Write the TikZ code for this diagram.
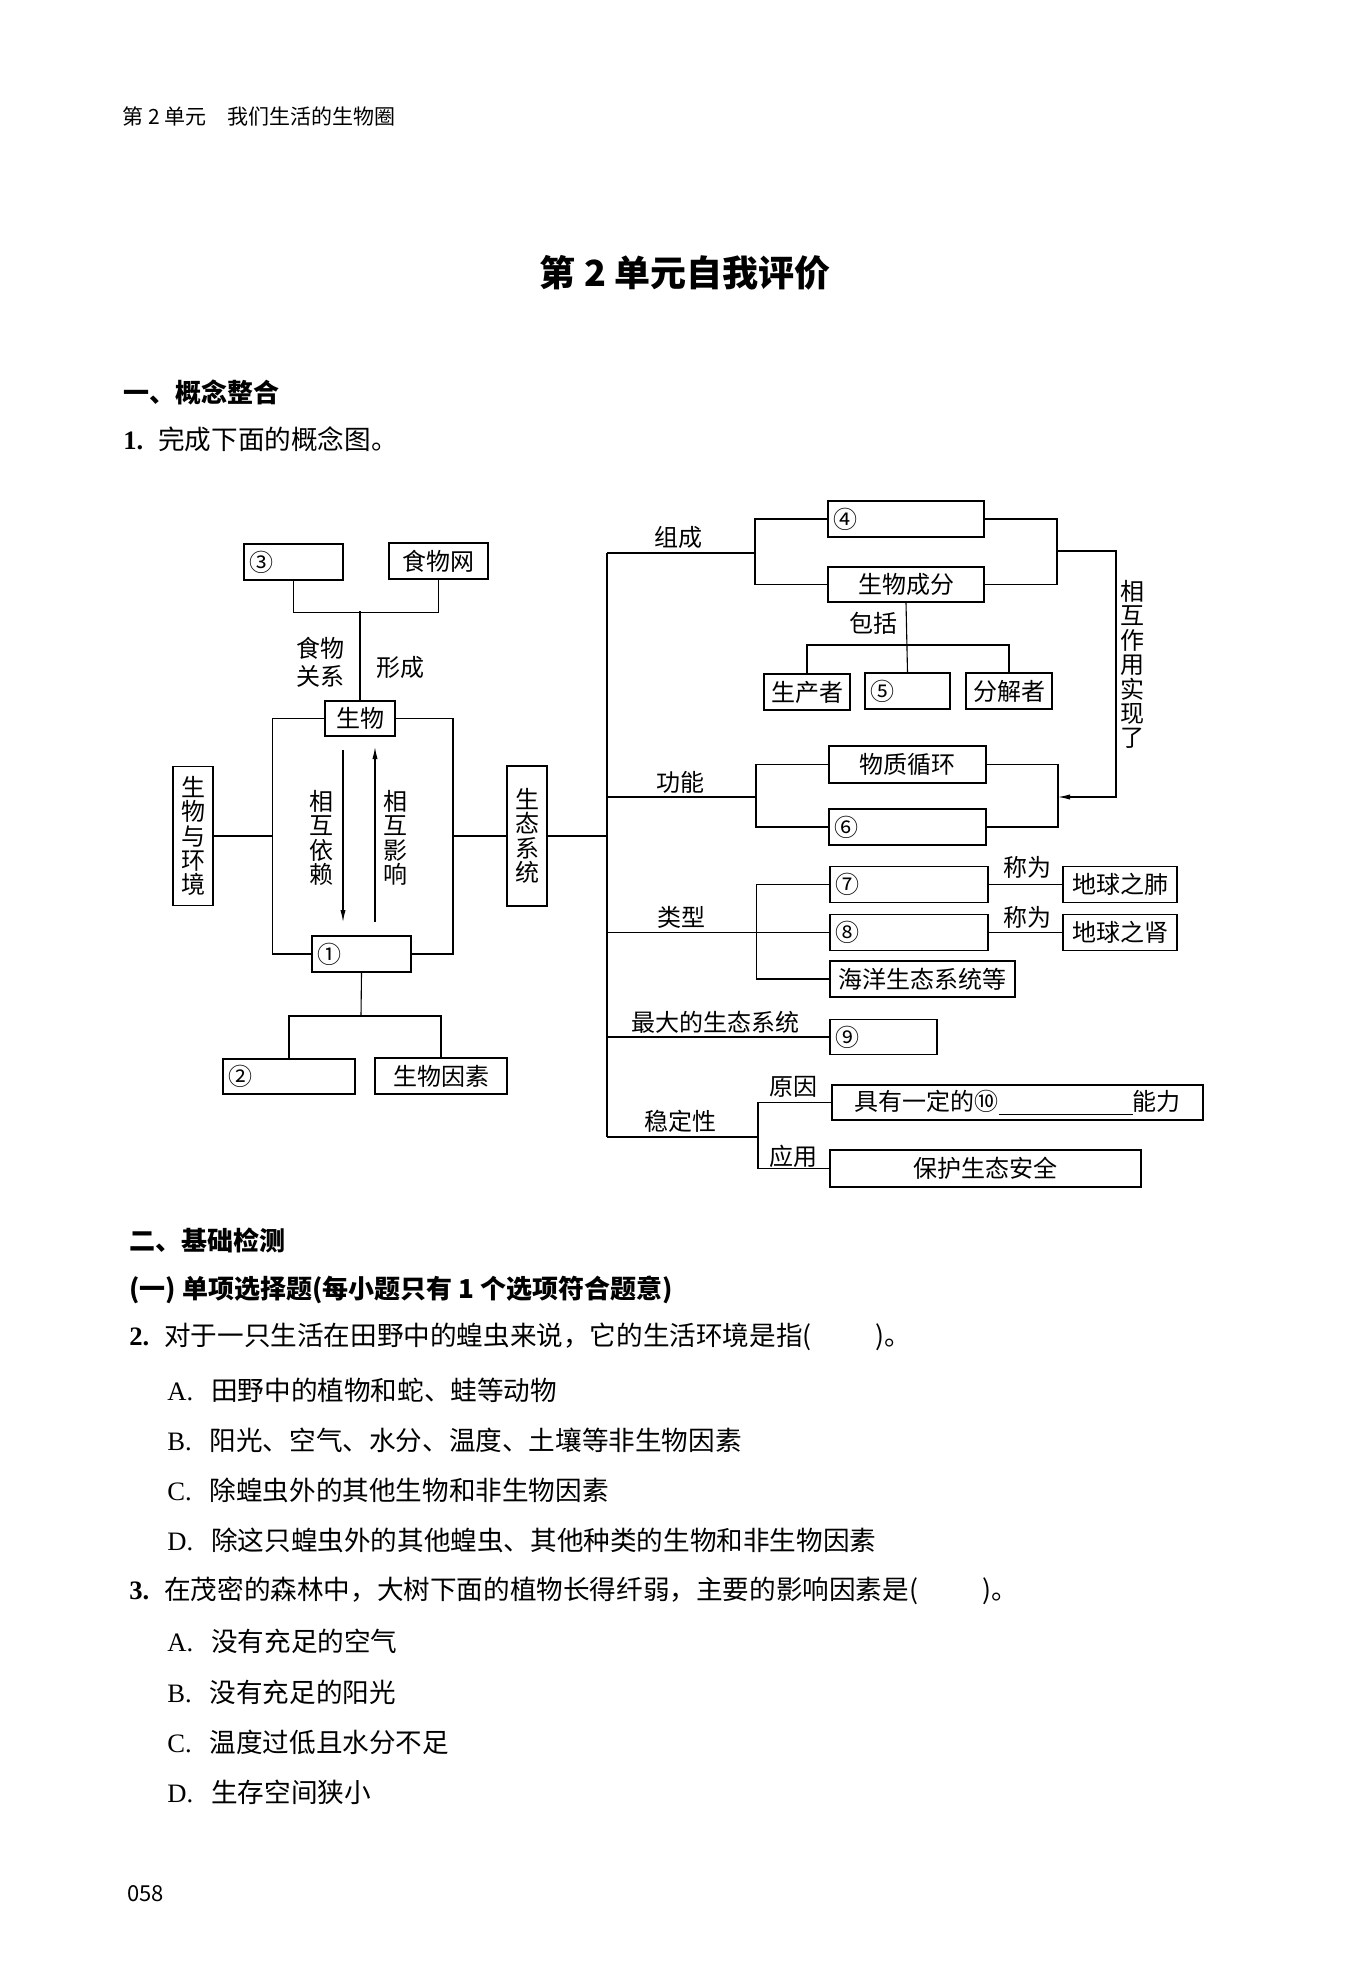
\documentclass[tikz,border=0pt]{standalone}
\usepackage{fontspec}
\setmainfont{Noto Sans CJK SC}
\newfontfamily\latin{Liberation Serif}
\usepackage{tikz}
\usetikzlibrary{arrows.meta}

\begin{document}
\begin{tikzpicture}[x=0.5pt,y=-0.5pt]
    \fill[white] (0,0) rectangle (1350,1975);
    \useasboundingbox (0,0) rectangle (1350,1975);

    \tikzstyle{every node}=[font=\fontsize{12}{14}\selectfont,inner sep=0pt]
    \tikzstyle{box}=[draw,line width=0.8pt]
    \tikzstyle{num}=[anchor=west,inner xsep=3pt]
    \tikzstyle{vert}=[align=center,font=\fontsize{12}{12.2}\selectfont]
    \tikzstyle{txt}=[anchor=west,font=\fontsize{13.3}{16}\selectfont]
    \tikzstyle{head}=[anchor=west,font=\fontsize{13}{16}\selectfont\bfseries]

    % page text
    \node[anchor=west,font=\fontsize{10.5}{12}\selectfont](unit) at (122,116){第 2 单元\quad 我们生活的生物圈};
    \node[font=\fontsize{18}{20}\selectfont\bfseries](title) at (685,273){第 2 单元自我评价};
    \node[head](sec1) at (123,392){一、概念整合};
    \node[txt](q1) at (123,439){{\latin\bfseries 1.}\hspace{7.5pt}完成下面的概念图。};

    % left part
    \node[box,minimum width=49.5pt,minimum height=18pt,label={[num]west:③}](n3) at (293.5,562){};
    \node[box,minimum width=49.5pt,minimum height=18pt](web) at (438.5,561){食物网};
    \node[box,minimum width=35pt,minimum height=17.5pt](bio) at (360,718.5){生物};
    \node[box,minimum width=49.5pt,minimum height=18pt,label={[num]west:①}](n1) at (361.5,954){};
    \node[box,minimum width=66pt,minimum height=17.5pt,label={[num]west:②}](n2) at (289,1076.5){};
    \node[box,minimum width=66pt,minimum height=18pt](factor) at (441,1076){生物因素};
    \node[box,vert,minimum width=20pt,minimum height=69.5pt](env) at (193,836){生\\物\\与\\环\\境};
    \node[box,vert,minimum width=20pt,minimum height=70pt](eco) at (527,836){生\\态\\系\\统};

    \node[align=center](lfood) at (320,662){食物\\关系};
    \node(lform) at (400,667){形成};
    \node[vert](ldep) at (321,838){相\\互\\依\\赖};
    \node[vert](linf) at (395.5,838){相\\互\\影\\响};

    \coordinate (rl) at (272.5,836);
    \coordinate (rr) at (453,836);
    \coordinate (k2) at (361,1016);
    \coordinate (a1) at (343,750);
    \coordinate (a2) at (343,922);
    \coordinate (a3) at (375,922);
    \coordinate (a4) at (375,747);

    \draw[line width=0.55pt](n3.south)--++(0,32)-|(web.south);
    \draw[line width=0.55pt](bio.north)--++(0,-89);
    \draw[line width=0.55pt](bio.west)-|(rl)|-(n1.west);
    \draw[line width=0.55pt](bio.east)-|(rr)|-(n1.east);
    \draw[line width=0.55pt](env.east)--(rl);
    \draw[line width=0.55pt](eco.west)--(rr);
    \draw[line width=0.55pt](n1.south)--(k2);
    \draw[line width=0.55pt](n2.north)|-(k2)-|(factor.north);
    \draw[line width=0.55pt,-{Latex[length=6pt,width=2.6pt]}](a1)--(a2);
    \draw[line width=0.55pt,-{Latex[length=6pt,width=2.6pt]}](a3)--(a4);

    % right part
    \node[box,minimum width=78pt,minimum height=18pt,label={[num]west:④}](n4) at (906,519){};
    \node[box,minimum width=78pt,minimum height=17.5pt](biocomp) at (906,584.5){生物成分};
    \node[box,minimum width=43pt,minimum height=18pt](producer) at (807,692){生产者};
    \node[box,minimum width=42.5pt,minimum height=18pt,label={[num]west:⑤}](n5) at (907.5,691){};
    \node[box,minimum width=43pt,minimum height=18pt](decomp) at (1009,691){分解者};
    \node[box,minimum width=78.5pt,minimum height=18.5pt](cycle) at (907.5,764.5){物质循环};
    \node[box,minimum width=78.5pt,minimum height=18pt,label={[num]west:⑥}](n6) at (907.5,827){};
    \node[box,minimum width=79pt,minimum height=18pt,label={[num]west:⑦}](n7) at (909,884.5){};
    \node[box,minimum width=79pt,minimum height=18pt,label={[num]west:⑧}](n8) at (909,932.5){};
    \node[box,minimum width=92.5pt,minimum height=18pt](ocean) at (922.5,979){海洋生态系统等};
    \node[box,minimum width=57pt,minimum height=18pt](lung) at (1120,884.5){地球之肺};
    \node[box,minimum width=57pt,minimum height=18pt](kidney) at (1120,932.5){地球之肾};
    \node[box,minimum width=53.5pt,minimum height=17.5pt,label={[num]west:⑨}](n9) at (883.5,1037){};
    \node[box,minimum width=185.5pt,minimum height=17.5pt](ability) at (1017.5,1102.5){具有一定的⑩\rule[-2.5pt]{67pt}{0.5pt}能力};
    \node[box,minimum width=155.5pt,minimum height=18.5pt](protect) at (985.5,1168.5){保护生态安全};

    \node(lmake) at (678.5,537){组成};
    \node(lincl) at (873,623){包括};
    \node[vert](lact) at (1132,664.5){相\\互\\作\\用\\实\\现\\了};
    \node(lfunc) at (680,782){功能};
    \node(ltype) at (681,917){类型};
    \node(lcall1) at (1027,867.5){称为};
    \node(lcall2) at (1027,917){称为};
    \node(lbig) at (715,1022){最大的生态系统};
    \node(lstab) at (680,1121){稳定性};
    \node(lwhy) at (793.5,1087){原因};
    \node(luse) at (793.5,1156){应用};

    \coordinate (t0) at (607,553);
    \coordinate (te) at (607,1137);
    \coordinate (b1) at (755,553);
    \coordinate (r1) at (1057,551);
    \coordinate (r2) at (1058,797);
    \coordinate (k1) at (907,645);
    \coordinate (b2) at (756,797);
    \coordinate (b5) at (758,1137);

    \draw[line width=0.55pt](t0)--(te);
    \draw[line width=0.55pt](eco.east)--(eco.east-|t0);
    \draw[line width=0.55pt](t0)--(b1);
    \draw[line width=0.55pt](n4.west)-|(b1)|-(biocomp.west);
    \draw[line width=0.55pt](n4.east)-|(r1)|-(biocomp.east);
    \draw[line width=0.55pt,-{Latex[length=6pt,width=2.6pt]}](r1)--++(59,0)|-(r2);
    \draw[line width=0.55pt](biocomp.south)--(n5.north);
    \draw[line width=0.55pt](producer.north)|-(k1)-|(decomp.north);
    \draw[line width=0.55pt](t0|-b2)--(b2);
    \draw[line width=0.55pt](cycle.west)-|(b2)|-(n6.west);
    \draw[line width=0.55pt](cycle.east)-|(r2)|-(n6.east);
    \draw[line width=0.55pt](t0|-n8.west)--(n8.west);
    \draw[line width=0.55pt](n7.west)--++(-73,0)|-(ocean.west);
    \draw[line width=0.55pt](n7.east)--(lung.west);
    \draw[line width=0.55pt](n8.east)--(kidney.west);
    \draw[line width=0.55pt](t0|-n9.west)--(n9.west);
    \draw[line width=0.55pt](te)--(b5);
    \draw[line width=0.55pt](ability.west)-|(b5)|-(protect.west);

    % questions
    \node[head](sec2) at (129,1240){二、基础检测};
    \node[head](part1) at (129,1290){(一) 单项选择题(每小题只有 1 个选项符合题意)};
    \node[txt](q2) at (129,1337){{\latin\bfseries 2.}\hspace{7.5pt}对于一只生活在田野中的蝗虫来说，它的生活环境是指(\hspace{32pt})。};
    \node[txt](q2a) at (167,1390){{\latin A.}\hspace{9pt}田野中的植物和蛇、蛙等动物};
    \node[txt](q2b) at (167,1440){{\latin B.}\hspace{9pt}阳光、空气、水分、温度、土壤等非生物因素};
    \node[txt](q2c) at (167,1490){{\latin C.}\hspace{9pt}除蝗虫外的其他生物和非生物因素};
    \node[txt](q2d) at (167,1540){{\latin D.}\hspace{9pt}除这只蝗虫外的其他蝗虫、其他种类的生物和非生物因素};
    \node[txt](q3) at (129,1591){{\latin\bfseries 3.}\hspace{7.5pt}在茂密的森林中，大树下面的植物长得纤弱，主要的影响因素是(\hspace{32pt})。};
    \node[txt](q3a) at (167,1641){{\latin A.}\hspace{9pt}没有充足的空气};
    \node[txt](q3b) at (167,1692){{\latin B.}\hspace{9pt}没有充足的阳光};
    \node[txt](q3c) at (167,1742){{\latin C.}\hspace{9pt}温度过低且水分不足};
    \node[txt](q3d) at (167,1792){{\latin D.}\hspace{9pt}生存空间狭小};
    \node[anchor=west,font=\fontsize{11}{12}\selectfont](page) at (127,1894){058};

\end{tikzpicture}
\end{document}
